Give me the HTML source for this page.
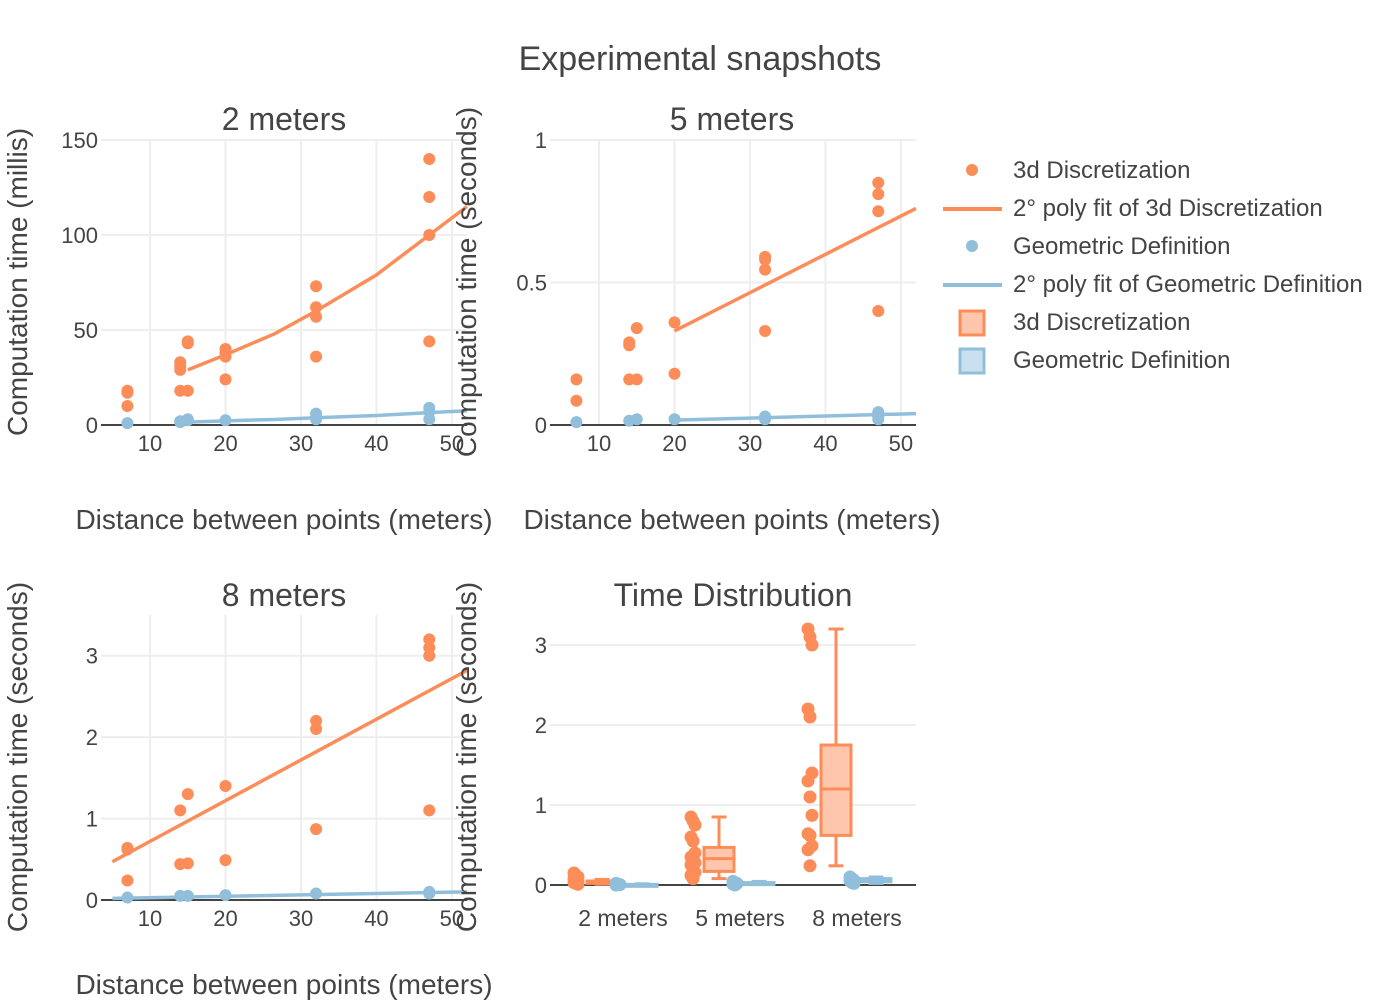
<!DOCTYPE html>
<html><head><meta charset="utf-8"><style>
body{margin:0;background:#fff}
svg{display:block;font-family:"Liberation Sans",sans-serif}
</style></head><body>
<svg id="chart" width="1400" height="1000">
<text x="700" y="70" text-anchor="middle" font-size="34" fill="#444">Experimental snapshots</text>
</svg>
<script>
const OR='#fc8d59', BL='#91bfdb';
const xs=[7,14,15,20,32,47];
const p1Orange=[[18,17,10],[33,31,29,18],[44,43,18],[40,38,36,24],[73,62,57,36],[140,120,100,44]];
const p1Blue=[[1],[2,1.5],[3,2.5],[2.5],[6,4,3],[9,7,3]];
const p1FitX=[15,20,26.5,32,40,47,52];
const p1FitOrange=[29,37,48,60,79,100,115];
const p1FitBlue=[1.5,2.2,2.9,3.8,5,6.5,7.5];
const p2Orange=[[0.16,0.085],[0.29,0.28,0.16],[0.34,0.16],[0.36,0.18],[0.59,0.58,0.545,0.33],[0.85,0.81,0.75,0.40]];
const p2Blue=[[0.01],[0.015],[0.02],[0.02],[0.03,0.02],[0.045,0.03,0.02]];
const p2FitX=[20,52];
const p2FitOrange=[0.33,0.76];
const p2FitBlue=[0.017,0.04];
const p3Orange=[[0.64,0.62,0.24],[1.1,0.44],[1.3,0.45],[1.4,0.49],[2.2,2.1,0.87],[3.2,3.1,3.0,1.1]];
const p3Blue=[[0.03],[0.05],[0.05],[0.06],[0.08],[0.1,0.08]];
const p3FitX=[5,52];
const p3FitOrange=[0.47,2.82];
const p3FitBlue=[0.02,0.1];
const boxCats=['2 meters','5 meters','8 meters'];
const boxOrange=[[0.01,0.02,0.03,0.05,0.07],[0.08,0.17,0.33,0.47,0.85],[0.24,0.62,1.2,1.75,3.2]];
const boxBlue=[[0,0.002,0.005,0.008,0.015],[0.005,0.01,0.02,0.03,0.045],[0.02,0.04,0.05,0.08,0.1]];
const jitOrange=[[0.15,0.12,0.1,0.08,0.06,0.04,0.03,0.02,0.01],[0.85,0.8,0.75,0.6,0.55,0.4,0.35,0.3,0.28,0.25,0.2,0.16,0.12,0.08],[3.2,3.1,3.0,2.2,2.1,1.4,1.3,1.1,0.87,0.64,0.62,0.49,0.44,0.24]];
const jitBlue=[[0.02,0.01,0.005,0],[0.045,0.03,0.02,0.01,0],[0.1,0.08,0.06,0.05,0.03,0.02]];
const xTicks=[10,20,30,40,50];

const svg=document.getElementById('chart');
const NS='http://www.w3.org/2000/svg';
function mk(tag,attrs,parent){const e=document.createElementNS(NS,tag);for(const k in attrs)e.setAttribute(k,attrs[k]);(parent||svg).appendChild(e);return e;}
function txt(x,y,s,size,anchor,parent,rot){const t=mk('text',{x:x,y:y,'font-size':size,fill:'#444','text-anchor':anchor||'middle'},parent);if(rot)t.setAttribute('transform','rotate(-90 '+x+' '+y+')');t.textContent=s;return t;}

function scatterPanel(name,L,R,xmin,xmax,T,B,ymax,yTicks,yLabels,orange,blue,fitX,fo,fb,title,tx,ty,ytx){
  const g=mk('g',{});
  
  
  const sx=v=>L+(v-xmin)/(xmax-xmin)*(R-L);
  const sy=v=>B-v/ymax*(B-T);
  xTicks.forEach(t=>{const l=mk('line',{x1:sx(t),x2:sx(t),y1:T,y2:B,stroke:'#eee','stroke-width':2},g);
    const tl=txt(sx(t),B+26,String(t),22,'middle',g);});
  yTicks.forEach((t,i)=>{if(t>0){const l=mk('line',{x1:L,x2:R,y1:sy(t),y2:sy(t),stroke:'#eee','stroke-width':2},g);}
    const tl=txt(ytx,sy(t)+8,yLabels[i],22,'end',g);});
  const ax=mk('line',{x1:L,x2:R,y1:B,y2:B,stroke:'#444','stroke-width':2},g);
  
  function fit(ys,c,n){const p=mk('polyline',{points:fitX.map((x,i)=>sx(x)+','+sy(ys[i])).join(' '),fill:'none',stroke:c,'stroke-width':3.5},g);}
  function pts(arr,c,n){arr.forEach((ys,i)=>ys.forEach(v=>{const d=mk('circle',{cx:sx(xs[i]),cy:sy(v),r:6,fill:c},g);}));}
  pts(orange,OR,'orange-point');fit(fo,OR,'orange-fit-line');
  pts(blue,BL,'blue-point');fit(fb,BL,'blue-fit-line');
  const tt=txt(tx,ty,title,32,'middle',g);
}
scatterPanel('panel-2m',101,467,3.5,52,140,425,150,[0,50,100,150],['0','50','100','150'],p1Orange,p1Blue,p1FitX,p1FitOrange,p1FitBlue,'2 meters',284,130,98);
scatterPanel('panel-5m',550,916,3.5,52,140,425,1,[0,0.5,1],['0','0.5','1'],p2Orange,p2Blue,p2FitX,p2FitOrange,p2FitBlue,'5 meters',732,130,547);
scatterPanel('panel-8m',101,467,3.5,52,615,900,3.5,[0,1,2,3],['0','1','2','3'],p3Orange,p3Blue,p3FitX,p3FitOrange,p3FitBlue,'8 meters',284,606,98);

// box panel
const bg=mk('g',{});


const BT=615,BB=885,BYMAX=3.375,BL0=550,BR0=916;
const by=v=>BB-v/BYMAX*(BB-BT);
const catX=i=>611+i*117;
[1,2,3].forEach(t=>{const l=mk('line',{x1:BL0,x2:BR0,y1:by(t),y2:by(t),stroke:'#eee','stroke-width':2},bg);});
[0,1,2,3].forEach(t=>{const tl=txt(547,by(t)+8,String(t),22,'end',bg);});
boxCats.forEach((s,i)=>{const tl=txt(catX(i)+12,926,s,23,'middle',bg);});
const bax=mk('line',{x1:BL0,x2:BR0,y1:BB,y2:BB,stroke:'#444','stroke-width':2},bg);

function box(st,cx,col,fill,n){const w=30,g=mk('g',{},bg);
  mk('line',{x1:cx,x2:cx,y1:by(st[0]),y2:by(st[1]),stroke:col,'stroke-width':3},g);
  mk('line',{x1:cx,x2:cx,y1:by(st[3]),y2:by(st[4]),stroke:col,'stroke-width':3},g);
  mk('line',{x1:cx-w/4,x2:cx+w/4,y1:by(st[0]),y2:by(st[0]),stroke:col,'stroke-width':3},g);
  mk('line',{x1:cx-w/4,x2:cx+w/4,y1:by(st[4]),y2:by(st[4]),stroke:col,'stroke-width':3},g);
  mk('rect',{x:cx-w/2,y:by(st[3]),width:w,height:Math.max(2,by(st[1])-by(st[3])),fill:fill,stroke:col,'stroke-width':3},g);
  mk('line',{x1:cx-w/2,x2:cx+w/2,y1:by(st[2]),y2:by(st[2]),stroke:col,'stroke-width':3},g);}
function jit(arr,cx,col,n){arr.forEach((v,k)=>{const d=mk('circle',{cx:cx+((k%3)-1)*2,cy:by(v),r:6.5,fill:col},bg);});}
boxCats.forEach((s,i)=>{const x0=catX(i);
  jit(jitOrange[i],x0-35,OR,'box-orange-point');box(boxOrange[i],x0-9,OR,'#fec6ac','box-orange');
  jit(jitBlue[i],x0+7,BL,'box-blue-point');box(boxBlue[i],x0+31,BL,'#c9e0ee','box-blue');});
const bt=txt(733,606,'Time Distribution',32,'middle',bg);


// axis titles
[[284,529,'Distance between points (meters)'],[732,529,'Distance between points (meters)'],[284,994,'Distance between points (meters)']].forEach(d=>{const t=txt(d[0],d[1],d[2],28,'middle');});
[[27,282,'Computation time (millis)'],[476,282,'Computation time (seconds)'],[27,757,'Computation time (seconds)'],[476,757,'Computation time (seconds)']].forEach(d=>{const t=txt(d[0],d[1],d[2],28,'middle',null,true);});

// legend
const lg=mk('g',{});


const items=[['dot',OR,'3d Discretization'],['line',OR,'2° poly fit of 3d Discretization'],['dot',BL,'Geometric Definition'],['line',BL,'2° poly fit of Geometric Definition'],['box',OR,'3d Discretization'],['box',BL,'Geometric Definition']];
items.forEach((it,i)=>{const y=170+i*38;const e=mk('g',{},lg);
  if(it[0]==='dot')mk('circle',{cx:972,cy:y,r:6,fill:it[1]},e);
  else if(it[0]==='line')mk('line',{x1:943,x2:1002,y1:y+1,y2:y+1,stroke:it[1],'stroke-width':4},e);
  else mk('rect',{x:960,y:y-11,width:24,height:24,fill:it[1]===OR?'#fec6ac':'#c9e0ee',stroke:it[1],'stroke-width':3},e);
  txt(1013,y+8,it[2],24,'start',e);});
</script>
</body></html>
